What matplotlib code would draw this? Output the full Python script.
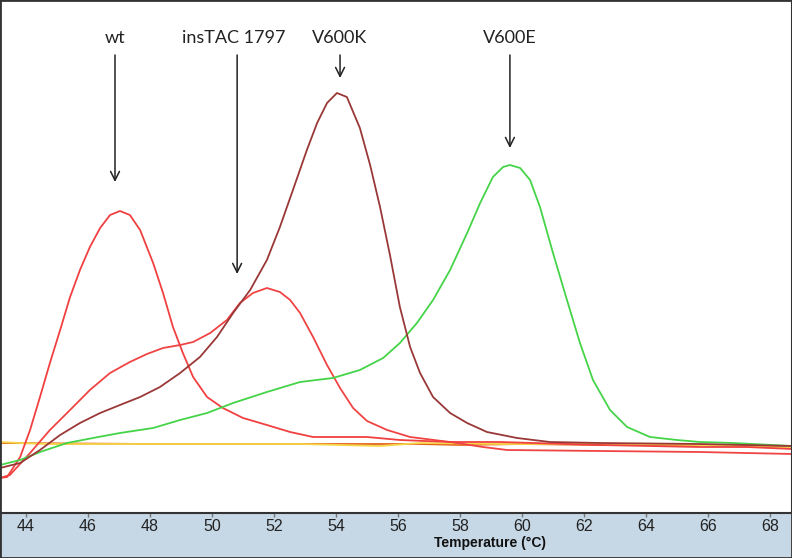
import matplotlib
matplotlib.use("Agg")
import matplotlib.pyplot as plt
from matplotlib.patches import Rectangle

# ---- data (temperature in °C, -dF/dT arbitrary units) ----
wt_t = [43.16, 43.39, 43.81, 44.13, 44.45, 44.77, 45.10, 45.42, 45.74, 46.06, 46.39,
        46.71, 47.03, 47.35, 47.68, 48.10, 48.42, 48.74, 49.06, 49.39, 49.84, 50.35,
        51.00, 51.77, 52.52, 53.26, 55.00, 56.06, 57.68, 59.29, 62.52, 65.74, 67.26, 68.71]
wt_v = [0.35, 0.36, 0.56, 0.83, 1.16, 1.50, 1.83, 2.16, 2.43, 2.66, 2.85,
        2.98, 3.02, 2.98, 2.83, 2.50, 2.20, 1.86, 1.60, 1.36, 1.16, 1.05,
        0.95, 0.88, 0.81, 0.76, 0.76, 0.73, 0.71, 0.71, 0.68, 0.66, 0.66, 0.64]

ins_t = [43.16, 43.48, 44.13, 44.77, 45.42, 46.06, 46.71, 47.35, 47.90, 48.42, 48.97,
         49.39, 49.94, 50.48, 50.90, 51.32, 51.77, 52.19, 52.52, 52.84, 53.26, 53.71,
         54.13, 54.55, 55.00, 55.65, 56.39, 57.68, 58.74, 59.52, 62.52, 65.74, 68.71]
ins_v = [0.35, 0.38, 0.60, 0.83, 1.03, 1.23, 1.40, 1.51, 1.59, 1.65, 1.68,
         1.71, 1.80, 1.93, 2.10, 2.20, 2.25, 2.21, 2.13, 2.00, 1.76, 1.48,
         1.25, 1.05, 0.92, 0.83, 0.76, 0.71, 0.66, 0.63, 0.62, 0.61, 0.59]

k_t = [43.16, 43.81, 44.45, 45.10, 45.74, 46.39, 47.03, 47.68, 48.32, 48.97, 49.61,
       50.16, 50.68, 51.23, 51.77, 52.19, 52.61, 53.06, 53.39, 53.71, 54.03, 54.35,
       54.77, 55.10, 55.42, 55.74, 56.06, 56.39, 56.71, 57.13, 57.68, 58.23, 58.87,
       59.84, 60.90, 62.52, 65.74, 68.71]
k_v = [0.45, 0.50, 0.63, 0.78, 0.90, 1.00, 1.08, 1.16, 1.26, 1.40, 1.56,
       1.76, 2.00, 2.23, 2.53, 2.86, 3.23, 3.63, 3.90, 4.10, 4.20, 4.16,
       3.85, 3.48, 3.06, 2.58, 2.06, 1.66, 1.40, 1.16, 1.00, 0.90, 0.81,
       0.75, 0.71, 0.70, 0.69, 0.67]

e_t = [43.16, 43.81, 44.45, 45.32, 46.16, 47.03, 48.10, 48.97, 49.84, 50.68, 51.77,
       52.84, 53.90, 54.77, 55.52, 56.06, 56.61, 57.13, 57.68, 58.23, 58.65, 59.06,
       59.39, 59.61, 59.94, 60.26, 60.58, 61.00, 61.45, 61.87, 62.29, 62.84, 63.39,
       64.13, 65.00, 65.74, 66.81, 68.71]
e_v = [0.48, 0.53, 0.61, 0.70, 0.75, 0.80, 0.85, 0.93, 1.00, 1.10, 1.21,
       1.31, 1.35, 1.43, 1.55, 1.70, 1.90, 2.13, 2.43, 2.80, 3.10, 3.36,
       3.46, 3.48, 3.45, 3.33, 3.06, 2.60, 2.13, 1.70, 1.33, 1.03, 0.86,
       0.76, 0.73, 0.71, 0.70, 0.67]

y_t = [43.16, 43.81, 44.77, 49.06, 52.84, 55.42, 56.71, 59.29, 62.52, 65.74, 68.71]
y_v = [0.71, 0.70, 0.69, 0.69, 0.69, 0.67, 0.70, 0.69, 0.69, 0.68, 0.65]

o_t = [43.16, 48.0, 53.0, 56.7, 58.0, 60.0, 62.5, 65.7, 68.71]
o_v = [0.70, 0.69, 0.69, 0.69, 0.68, 0.69, 0.68, 0.68, 0.67]

xticks = [44, 46, 48, 50, 52, 54, 56, 58, 60, 62, 64, 66, 68]

# annotations: label, text x, arrow x, arrow tip y
labels = ["wt", "insTAC 1797", "V600K", "V600E"]
label_x = [46.87, 50.71, 54.10, 59.61]
arrow_x = [46.87, 50.81, 54.13, 59.61]
arrow_tip = [3.31, 2.39, 4.35, 3.65]

# ---- figure ----
W, H = 792, 558
fig = plt.figure(figsize=(W / 100, H / 100), dpi=100)
fig.patch.set_facecolor("#c6d7e6")
ax = fig.add_axes([0, 45 / H, 1, 513 / H])
ax.set_facecolor("white")
ax.set_xlim(43.16, 68.71)
ax.set_ylim(0, 5.13)

lw = 1.3
kw = dict(lw=lw, solid_joinstyle="round", solid_capstyle="round")
ax.plot(o_t, o_v, color="#e0621a", **kw)
ax.plot(y_t, y_v, color="#f7d548", **kw)
ax.plot(ins_t, ins_v, color="#f04444", **kw)
ax.plot(wt_t, wt_v, color="#f04040", **kw)
ax.plot(e_t, e_v, color="#45d448", **kw)
ax.plot(k_t, k_v, color="#9a3838", **kw)

for lab, tx, axx, tip in zip(labels, label_x, arrow_x, arrow_tip):
    ax.text(tx, 4.70, lab, ha="center", va="baseline", fontsize=13,
            family=["Lato", "DejaVu Sans"], color="#222222")
    ax.annotate("", xy=(axx, tip), xytext=(axx, 4.58),
                arrowprops=dict(arrowstyle="->", lw=1.1, color="#222222",
                                mutation_scale=16, shrinkA=0, shrinkB=0))

ax.set_xticks(xticks)
ax.set_xticklabels([str(t) for t in xticks], family=["Liberation Sans", "DejaVu Sans"],
                   fontsize=11.5, color="#222222")
ax.tick_params(axis="x", direction="out", length=3, width=1, color="#777777", pad=1.5)
ax.set_yticks([])
for s in ax.spines.values():
    s.set_color("#333333")
    s.set_linewidth(1.5)

fig.text(490 / W, 1 - 543 / H, "Temperature (°C)", ha="center", va="center",
         fontsize=10, fontweight="bold", family=["Liberation Sans", "DejaVu Sans"],
         color="#111111")

fig.patches.append(Rectangle((0, 0), 1, 1, transform=fig.transFigure, fill=False,
                             edgecolor="#333333", lw=2))

fig.savefig("out.png", dpi=100, facecolor=fig.get_facecolor())
